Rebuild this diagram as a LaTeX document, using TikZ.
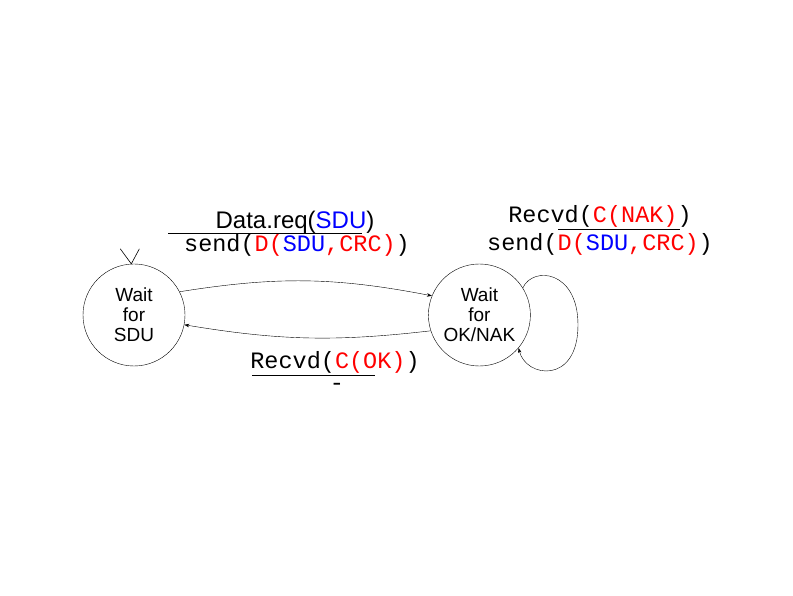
\documentclass[tikz,border=0pt]{standalone}
\usepackage{fontspec}
\setmainfont{Liberation Sans}
\setmonofont{Liberation Mono}
\usepackage{xcolor}
\usetikzlibrary{arrows.meta, positioning}
\newcommand{\redt}[1]{\textcolor{red}{#1}}
\newcommand{\bluet}[1]{\textcolor{blue}{#1}}

\begin{document}
\begin{tikzpicture}[
    x=1pt, y=1pt,
    state/.style={circle, draw, thin, minimum size=102pt, inner sep=0pt, align=center, font=\fontsize{19}{20}\selectfont},
    line/.style={draw, thin, -{Stealth[length=5pt,width=3.5pt]}},
    lbl/.style={anchor=base, inner sep=0pt, font=\fontsize{23.5}{24}\selectfont\ttfamily},
    bar/.style={draw, thin}
]
\useasboundingbox (0,0) rectangle (793,595);

% States
\node[state] (sdu) at (134,280) {Wait\\for\\SDU};
\node[state, right=243pt of sdu] (oknak) {Wait\\for\\OK/NAK};
\coordinate (loopR) at (578,270);

% Initial state mark
\draw[semithick] (sdu.93) -- ++(-11,15) (sdu.93) -- ++(8,15);

% Transitions
\draw[line] (sdu.27) to[bend left=10] (oknak.158);
\draw[line] (oknak.198) to[bend left=8] (sdu.-11);
\draw[line] (oknak.32) .. controls +(10,22) and +(0,55) .. (loopR)
    .. controls +(0,-60) and +(7,-30) .. (oknak.-40);

% Labels
\node[lbl, font=\fontsize{24}{24}\selectfont] (dreq) at (295,366) {Data.req(\bluet{SDU})};
\draw[bar] (168,362) -- (362,362);
\node[lbl] (dsend) at (297,343) {send(\redt{D(}\bluet{SDU}\redt{,CRC)})};

\node[lbl] (nakrecv) at (600,372) {Recvd(\redt{C(NAK)})};
\draw[bar] (558,366) -- (680,366);
\node[lbl] (naksend) at (600,344) {send(\redt{D(}\bluet{SDU}\redt{,CRC)})};

\node[lbl] (okrecv) at (335,226) {Recvd(\redt{C(OK)})};
\draw[bar] (252,220) -- (375,220);
\node[lbl] (noact) at (337,204) {-};

\end{tikzpicture}
\end{document}
